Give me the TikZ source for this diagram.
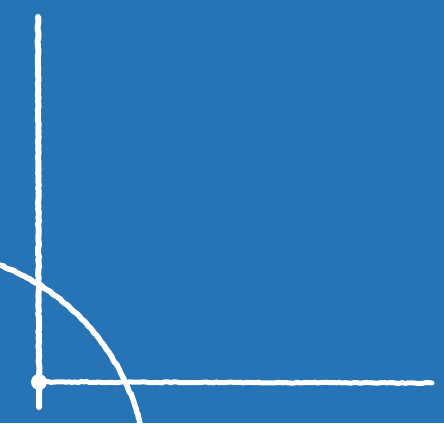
\documentclass[tikz,border=0pt]{standalone}
\usepackage{tikz}
\usetikzlibrary{positioning, calc, decorations.pathmorphing}

\definecolor{boardblue}{RGB}{38,115,182}

\begin{document}
\begin{tikzpicture}[
  x=1pt, y=1pt,
  chalk/.style={draw=white, line width=5.5pt, line cap=round,
    decorate, decoration={random steps, segment length=3pt, amplitude=0.5pt}},
  chalkdot/.style={circle, fill=white, inner sep=0pt, minimum size=16pt}
]
\useasboundingbox (0,0) rectangle (444,423);
\fill[boardblue] (0,0) rectangle (444,423);
\clip (0,0) rectangle (444,423);

% Axes
\node[chalkdot] (origin) at (39,41) {};
\coordinate (ytop) at (38,406);
\coordinate (ybot) at (39,16);
\coordinate (xend) at (432,40);
\draw[chalk, line width=6pt] (ybot) -- (ytop);
\draw[chalk, line width=5pt] (origin.center) -- (xend);

% Arc
\coordinate (centre) at (-82,-56);
\draw[chalk] ($(centre)+(75:229)$) arc[start angle=75, end angle=8, radius=229];
\end{tikzpicture}
\end{document}
